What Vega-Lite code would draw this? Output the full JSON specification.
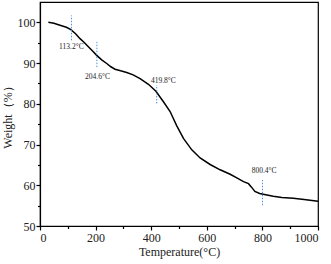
{
  "$schema": "https://vega.github.io/schema/vega-lite/v6.json",
  "width": 278,
  "height": 224,
  "autosize": "none",
  "padding": {"left": 40, "top": 2, "right": 13, "bottom": 38},
  "background": "white",
  "config": {
    "view": {"stroke": "black", "strokeWidth": 1.2},
    "font": "Liberation Serif",
    "axis": {"labelFont": "Liberation Serif", "titleFont": "Liberation Serif", "labelColor": "#222", "titleColor": "#222", "grid": false, "domainColor": "black", "tickColor": "black", "domainWidth": 1.2, "tickWidth": 1.2}
  },
  "datasets": {
    "curve": [
      {"T": 30, "W": 100}, {"T": 50, "W": 99.8}, {"T": 72, "W": 99.3}, {"T": 95, "W": 98.8},
      {"T": 111, "W": 98.2}, {"T": 128, "W": 97.2}, {"T": 144, "W": 96}, {"T": 160, "W": 95},
      {"T": 174, "W": 94}, {"T": 190, "W": 92.9}, {"T": 204, "W": 91.9}, {"T": 222, "W": 90.8},
      {"T": 240, "W": 89.9}, {"T": 255, "W": 89.1}, {"T": 270, "W": 88.5}, {"T": 290, "W": 88.1},
      {"T": 312, "W": 87.7}, {"T": 335, "W": 87.1}, {"T": 360, "W": 86.2}, {"T": 390, "W": 84.8},
      {"T": 417, "W": 83.1}, {"T": 444, "W": 80.5}, {"T": 468, "W": 78.1}, {"T": 492, "W": 74.6},
      {"T": 516, "W": 71.5}, {"T": 546, "W": 68.7}, {"T": 576, "W": 66.7}, {"T": 612, "W": 65.1},
      {"T": 648, "W": 63.8}, {"T": 684, "W": 62.7}, {"T": 708, "W": 61.8}, {"T": 732, "W": 60.9},
      {"T": 750, "W": 60.4}, {"T": 760, "W": 59.6}, {"T": 773, "W": 58.5}, {"T": 790, "W": 58.0},
      {"T": 803, "W": 57.8}, {"T": 839, "W": 57.3}, {"T": 870, "W": 57.0}, {"T": 911, "W": 56.8},
      {"T": 950, "W": 56.5}, {"T": 1000, "W": 56.1}
    ],
    "marks": [
      {"T": 113.2, "y1": 95.6, "y2": 101.7, "lx": 113, "ly": 94, "label": "113.2°C"},
      {"T": 204.6, "y1": 89, "y2": 95.2, "lx": 207, "ly": 86.5, "label": "204.6°C"},
      {"T": 419.8, "y1": 80.1, "y2": 84.6, "lx": 444, "ly": 85.6, "label": "419.8°C"},
      {"T": 800.4, "y1": 55.1, "y2": 61.3, "lx": 806, "ly": 63.5, "label": "800.4°C"}
    ],
    "minor": [{"T": 100, "W": 55}]
  },
  "layer": [
    {
      "data": {"name": "minor"},
      "mark": {"type": "point", "opacity": 0},
      "encoding": {
        "x": {"field": "T", "type": "quantitative", "scale": {"domain": [0, 1000], "nice": false},
          "axis": {"orient": "bottom", "values": [100, 300, 500, 700, 900], "labels": false, "domain": false, "tickSize": 2.5, "title": null}},
        "y": {"field": "W", "type": "quantitative", "scale": {"domain": [50, 105], "nice": false, "zero": false},
          "axis": {"orient": "left", "values": [55, 65, 75, 85, 95], "labels": false, "domain": false, "tickSize": 2.5, "title": null}}
      }
    },
    {
      "data": {"name": "curve"},
      "mark": {"type": "line", "color": "black", "strokeWidth": 1.5},
      "encoding": {
        "x": {"field": "T", "type": "quantitative",
          "axis": {"orient": "bottom", "values": [0, 200, 400, 600, 800, 1000], "format": "d", "labelFontSize": 12, "labelPadding": 2, "tickSize": 4, "title": "Temperature(°C)", "titleFontSize": 12, "titleFontWeight": "normal", "titlePadding": 3}},
        "y": {"field": "W", "type": "quantitative",
          "axis": {"orient": "left", "values": [50, 60, 70, 80, 90, 100], "format": "d", "labelFontSize": 12, "labelPadding": 1, "tickSize": 4, "title": "Weight（%）", "titleFontSize": 12, "titleFontWeight": "normal", "titlePadding": 3}}
      }
    },
    {
      "data": {"name": "marks"},
      "mark": {"type": "rule", "color": "#4a90e2", "strokeWidth": 1, "strokeDash": [1.5, 1.5]},
      "encoding": {
        "x": {"field": "T", "type": "quantitative", "axis": null},
        "y": {"field": "y1", "type": "quantitative", "axis": null},
        "y2": {"field": "y2"}
      }
    },
    {
      "data": {"name": "marks"},
      "mark": {"type": "text", "fontSize": 7.5, "color": "#222", "font": "Liberation Serif"},
      "encoding": {
        "x": {"field": "lx", "type": "quantitative", "axis": null},
        "y": {"field": "ly", "type": "quantitative", "axis": null},
        "text": {"field": "label"}
      }
    }
  ],
  "resolve": {"axis": {"x": "independent", "y": "independent"}}
}
